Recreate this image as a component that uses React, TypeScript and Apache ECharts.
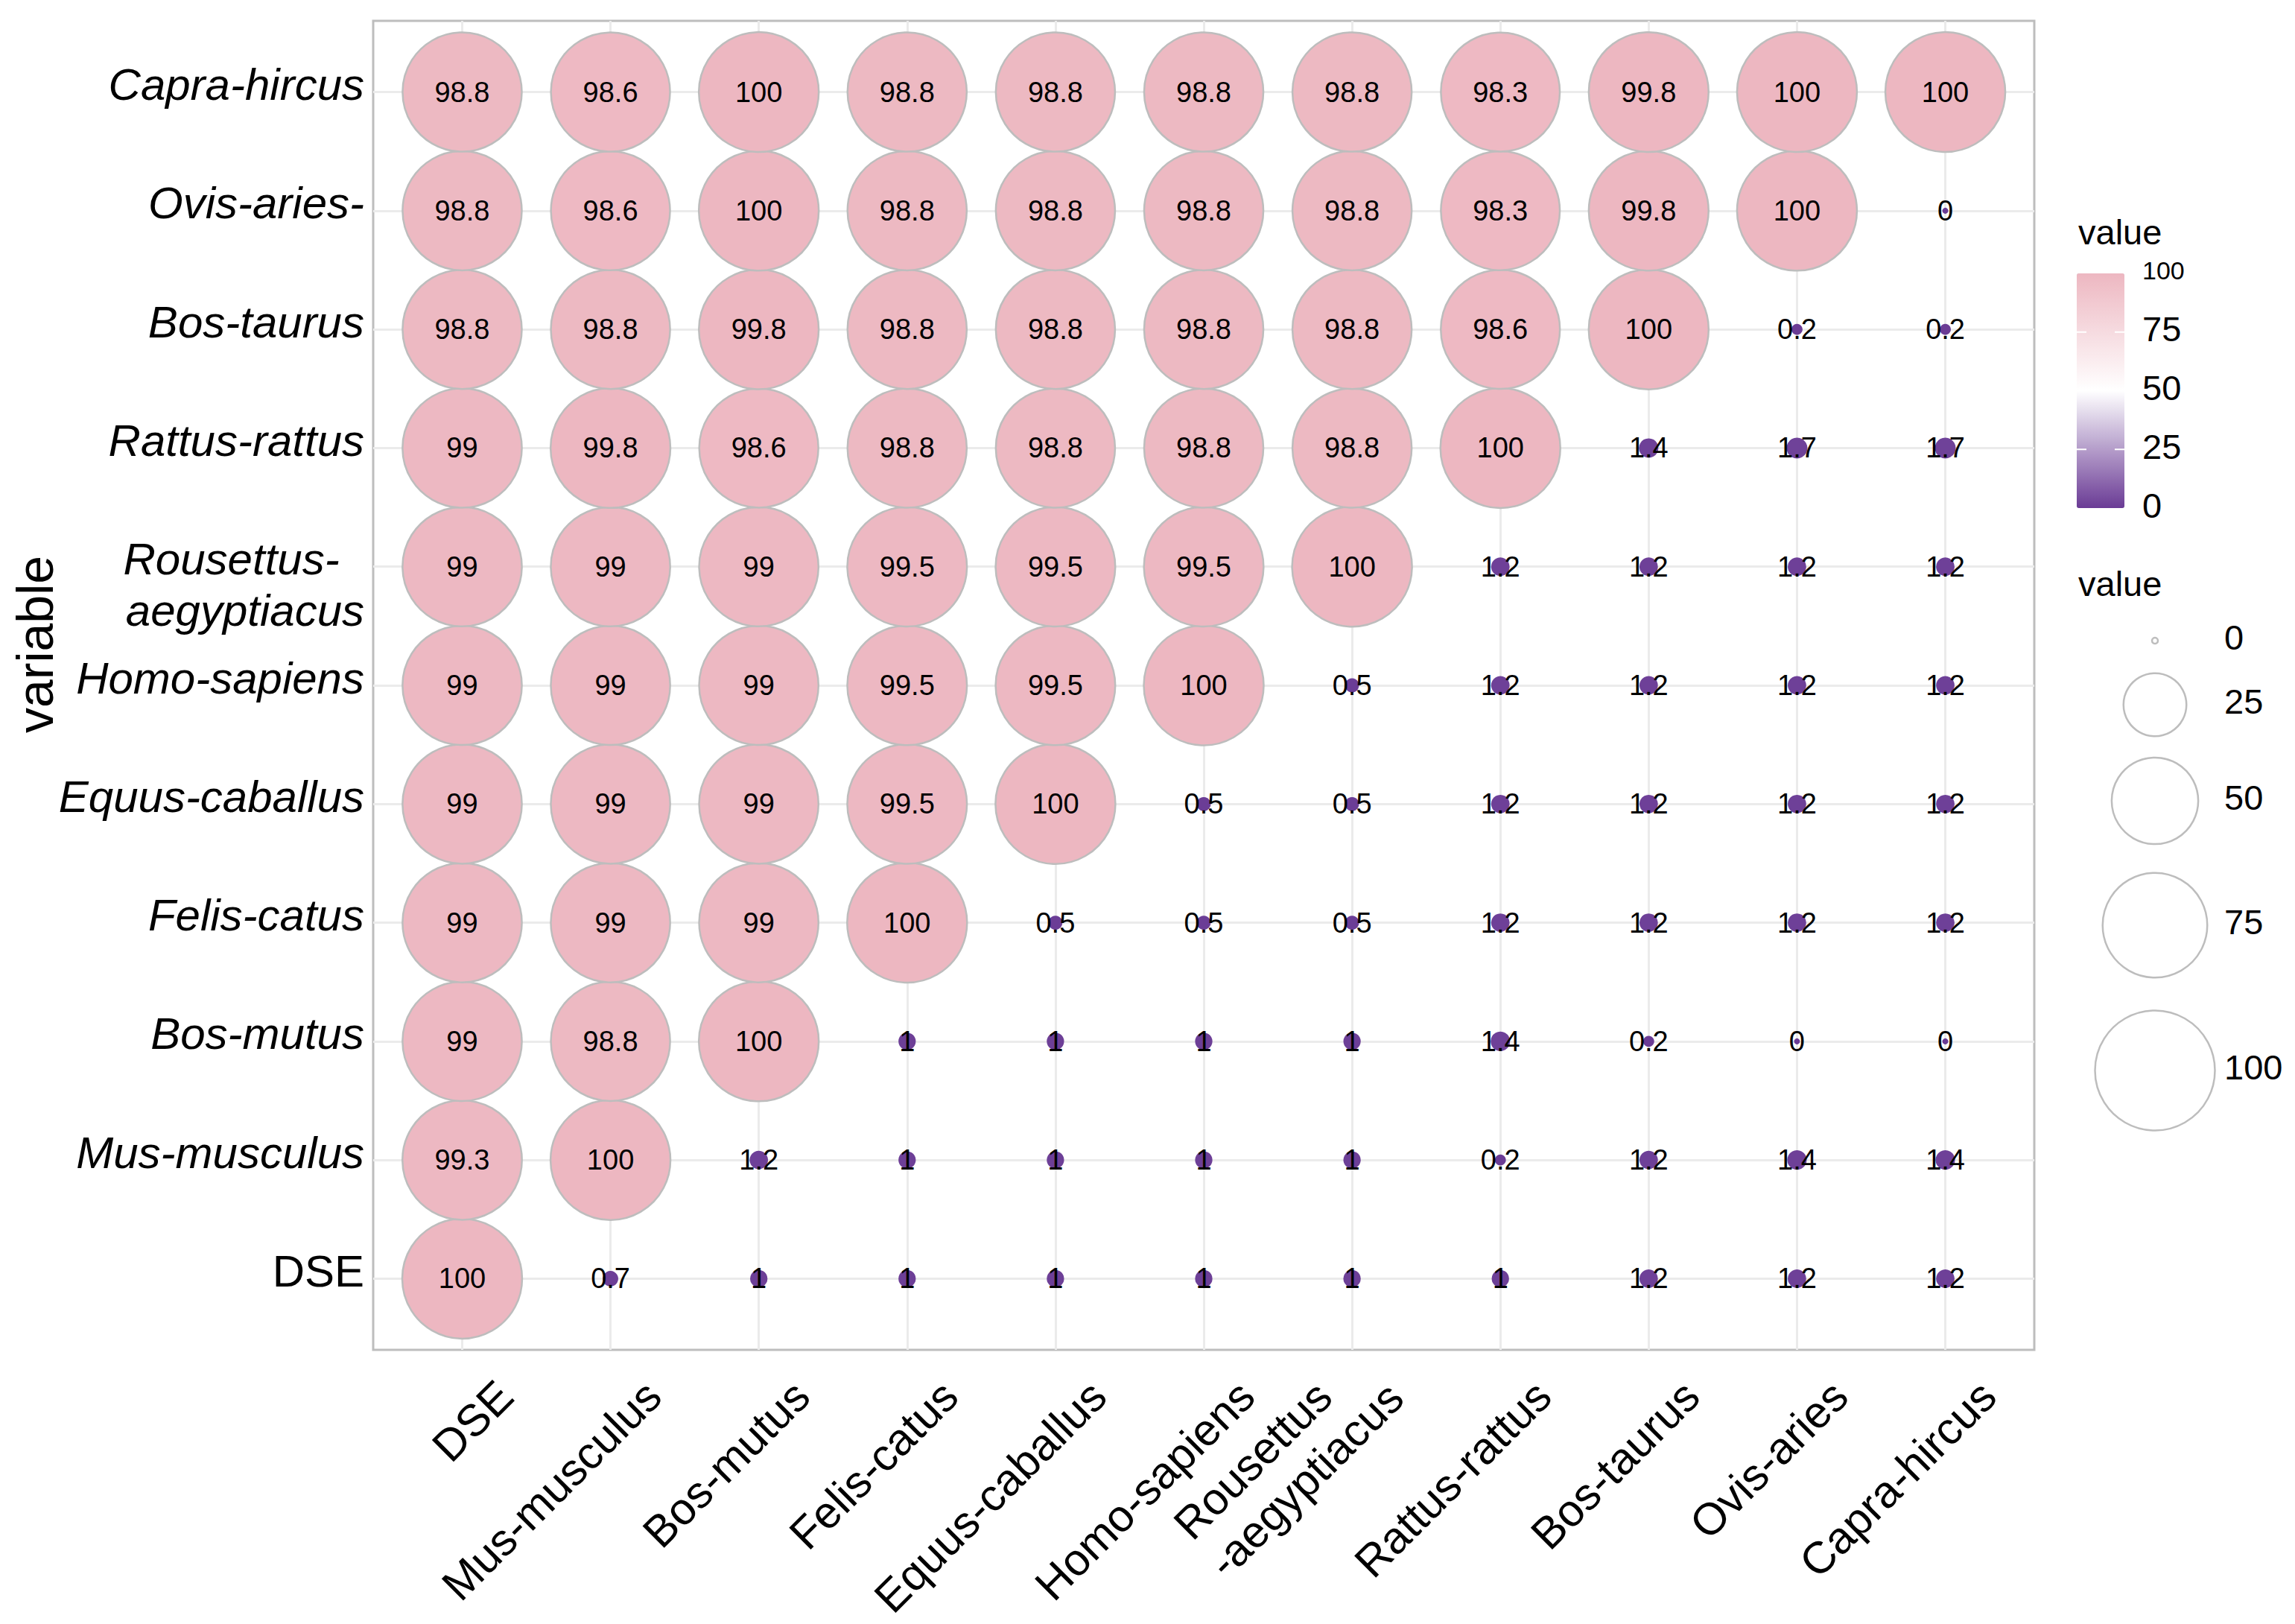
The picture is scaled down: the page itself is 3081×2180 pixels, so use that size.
import React, { useEffect, useRef } from "react";
import * as echarts from "echarts";

// ---------- data ----------
const xNames = [
  "DSE", "Mus-musculus", "Bos-mutus", "Felis-catus", "Equus-caballus", "Homo-sapiens",
  "Rousettus-aegyptiacus", "Rattus-rattus", "Bos-taurus", "Ovis-aries", "Capra-hircus",
];
const yNames = [
  "DSE", "Mus-musculus", "Bos-mutus", "Felis-catus", "Equus-caballus", "Homo-sapiens",
  "Rousettus-aegyptiacus", "Rattus-rattus", "Bos-taurus", "Ovis-aries", "Capra-hircus",
];
// each row: values across x columns (DSE ... Capra-hircus)
const rowDSE = [100, 0.7, 1, 1, 1, 1, 1, 1, 1.2, 1.2, 1.2];
const rowMusMusculus = [99.3, 100, 1.2, 1, 1, 1, 1, 0.2, 1.2, 1.4, 1.4];
const rowBosMutus = [99, 98.8, 100, 1, 1, 1, 1, 1.4, 0.2, 0, 0];
const rowFelisCatus = [99, 99, 99, 100, 0.5, 0.5, 0.5, 1.2, 1.2, 1.2, 1.2];
const rowEquusCaballus = [99, 99, 99, 99.5, 100, 0.5, 0.5, 1.2, 1.2, 1.2, 1.2];
const rowHomoSapiens = [99, 99, 99, 99.5, 99.5, 100, 0.5, 1.2, 1.2, 1.2, 1.2];
const rowRousettus = [99, 99, 99, 99.5, 99.5, 99.5, 100, 1.2, 1.2, 1.2, 1.2];
const rowRattusRattus = [99, 99.8, 98.6, 98.8, 98.8, 98.8, 98.8, 100, 1.4, 1.7, 1.7];
const rowBosTaurus = [98.8, 98.8, 99.8, 98.8, 98.8, 98.8, 98.8, 98.6, 100, 0.2, 0.2];
const rowOvisAries = [98.8, 98.6, 100, 98.8, 98.8, 98.8, 98.8, 98.3, 99.8, 100, 0];
const rowCapraHircus = [98.8, 98.6, 100, 98.8, 98.8, 98.8, 98.8, 98.3, 99.8, 100, 100];

const colorBreaks = [0, 25, 50, 75, 100];
const sizeBreaks = [0, 25, 50, 75, 100];

// ---------- styling ----------
const W = 3081;
const H = 2180;
const FONT = "'Liberation Sans', Arial, Helvetica, sans-serif";
const LOW = "#6A3B95";
const MID = "#FFFFFF";
const HIGH = "#EDB7C1";

const sizeOf = (v: number) => 8 + 153 * Math.sqrt(Math.max(v, 0) / 100);

const rows = [
  rowDSE, rowMusMusculus, rowBosMutus, rowFelisCatus, rowEquusCaballus, rowHomoSapiens,
  rowRousettus, rowRattusRattus, rowBosTaurus, rowOvisAries, rowCapraHircus,
];

const idx = xNames.map((_, i) => i);
const ROUS = xNames.indexOf("Rousettus-aegyptiacus");
const idxSingle = idx.filter((i) => i !== ROUS);

const yLabelText = (v: number) => {
  const n = yNames[Math.round(v)];
  if (n === undefined) return "";
  if (n === "DSE") return "{n|DSE}";
  if (n === "Rousettus-aegyptiacus") return "\nRousettus-  \naegyptiacus";
  if (n === "Ovis-aries") return "Ovis-aries-";
  return n;
};

// axis extents (ggplot-like 0.6 expansion of a discrete scale)
const X_MIN = -0.6, X_MAX = 10.6;
// label-axis shifts (in category units) to place rotated labels like the reference
const LBL_SHIFT = 0.29, LBL_OFFSET = 52;
const ROUS_SHIFT = 0.17, ROUS_OFFSET = 30;

// legend layout
const CB_LEFT = 2788, CB_TOP = 367, CB_W = 64, CB_H = 315;
const SIZE_CX = 2893;
const SIZE_CY = [860, 946, 1075, 1242, 1437];
const LEG_LABEL_X = 2986;

export default function App() {
  const ref = useRef<HTMLDivElement>(null);
  useEffect(() => {
    const el = ref.current!;
    const chart = echarts.init(el, null, { renderer: "svg", width: W, height: H });

    const data: any[] = [];
    rows.forEach((row, r) => {
      row.forEach((v, c) => {
        const item: any = { value: [c, r, v] };
        if (v < 50) item.itemStyle = { borderWidth: 0 };
        data.push(item);
      });
    });

    const graphics: any[] = [];
    graphics.push({
      type: "text", left: 2790, top: 288,
      style: { text: "value", font: `47px ${FONT}`, fill: "#000" },
    });
    colorBreaks.forEach((b) => {
      const y = CB_TOP + CB_H - (b / 100) * CB_H;
      graphics.push({
        type: "text", x: 2876, y: y - 4,
        style: {
          text: String(b), font: `${b === 100 ? 34 : 47}px ${FONT}`, fill: "#000",
          verticalAlign: "middle", align: "left",
        },
        z: 10,
      });
      if (b > 0 && b < 100) {
        graphics.push({ type: "line", shape: { x1: CB_LEFT, y1: y, x2: CB_LEFT + 13, y2: y }, style: { stroke: "#fff", lineWidth: 2 }, z: 10 });
        graphics.push({ type: "line", shape: { x1: CB_LEFT + CB_W - 13, y1: y, x2: CB_LEFT + CB_W, y2: y }, style: { stroke: "#fff", lineWidth: 2 }, z: 10 });
      }
    });
    graphics.push({
      type: "text", left: 2790, top: 760,
      style: { text: "value", font: `47px ${FONT}`, fill: "#000" },
    });
    sizeBreaks.forEach((b, i) => {
      graphics.push({
        type: "circle",
        shape: { cx: SIZE_CX, cy: SIZE_CY[i], r: sizeOf(b) / 2 },
        style: { fill: "none", stroke: "#BDBDBD", lineWidth: 2.5 },
      });
      graphics.push({
        type: "text", x: LEG_LABEL_X, y: SIZE_CY[i] - 5,
        style: { text: String(b), font: `47px ${FONT}`, fill: "#000", verticalAlign: "middle", align: "left" },
      });
    });

    const xLabelBase = {
      rotate: 45, margin: 0, fontSize: 60, color: "#000", fontFamily: FONT,
      align: "right", verticalAlign: "middle", showMinLabel: true, showMaxLabel: true, hideOverlap: false,
    };

    const option: any = {
      animation: false,
      backgroundColor: "#fff",
      textStyle: { fontFamily: FONT },
      grid: {
        left: 501, top: 28, right: W - 2731, bottom: H - 1812,
        show: true, borderColor: "#BDBDBD", borderWidth: 3, backgroundColor: "#fff",
        containLabel: false, outerBoundsMode: "none",
      },
      xAxis: [
        {
          type: "value", min: X_MIN, max: X_MAX, position: "bottom",
          axisLine: { show: false },
          axisTick: { show: true, customValues: idx, length: 10, lineStyle: { color: "#333", width: 2.5 } },
          axisLabel: { show: false },
          splitLine: { show: true, lineStyle: { color: "#EBEBEB", width: 3 } },
        },
        {
          type: "value", min: X_MIN - LBL_SHIFT, max: X_MAX - LBL_SHIFT, position: "bottom", offset: LBL_OFFSET,
          axisLine: { show: false }, axisTick: { show: false }, splitLine: { show: false },
          axisLabel: {
            ...xLabelBase, lineHeight: 60, customValues: idxSingle,
            formatter: (v: number) => xNames[Math.round(v)] ?? "",
          },
        },
        {
          type: "value", min: X_MIN - ROUS_SHIFT, max: X_MAX - ROUS_SHIFT, position: "bottom", offset: ROUS_OFFSET,
          axisLine: { show: false }, axisTick: { show: false }, splitLine: { show: false },
          axisLabel: {
            ...xLabelBase, lineHeight: 69, customValues: [ROUS],
            formatter: () => "Rousettus    \n-aegyptiacus",
          },
        },
      ],
      yAxis: {
        type: "value", min: X_MIN, max: X_MAX,
        name: "variable", nameLocation: "middle", nameGap: 420, nameRotate: 90, nameMoveOverlap: false,
        nameTextStyle: { fontSize: 68, color: "#000", fontFamily: FONT, padding: [0, 0, 0, 110] },
        axisLine: { show: false },
        axisTick: { show: true, customValues: idx, length: 10, lineStyle: { color: "#333", width: 2.5 } },
        axisLabel: {
          customValues: idx, margin: 12, fontSize: 60, lineHeight: 69, fontStyle: "italic",
          color: "#000", fontFamily: FONT, align: "right", verticalAlign: "middle",
          showMinLabel: true, showMaxLabel: true, hideOverlap: false,
          padding: [0, 0, 20, 0], formatter: (v: number) => yLabelText(v),
          rich: { n: { fontStyle: "normal", fontSize: 60, lineHeight: 69, color: "#000", fontFamily: FONT } },
        },
        splitLine: { show: true, lineStyle: { color: "#EBEBEB", width: 3 } },
      },
      visualMap: {
        type: "continuous", min: 0, max: 100, seriesIndex: 0, dimension: 2,
        inRange: { color: [LOW, MID, HIGH] },
        orient: "vertical", left: CB_LEFT, top: CB_TOP, itemWidth: CB_W, itemHeight: CB_H,
        calculable: false, hoverLink: false, padding: 0, text: null, showLabel: false,
      },
      series: [
        {
          type: "scatter", symbol: "circle", data, xAxisIndex: 0, yAxisIndex: 0,
          symbolSize: (val: number[]) => sizeOf(val[2]),
          itemStyle: { borderColor: "#BDBDBD", borderWidth: 2.5, opacity: 1 },
          label: {
            show: true, position: "inside", color: "#000", fontSize: 38, fontFamily: FONT,
            textBorderWidth: 0, formatter: (p: any) => String(p.value[2]),
          },
          emphasis: { disabled: true },
          z: 3,
        },
      ],
      graphic: graphics,
    };
    chart.setOption(option);
    return () => chart.dispose();
  }, []);
  return (
    <div
      ref={ref}
      style={{ position: "fixed", left: 0, top: 0, width: W, height: H, background: "#fff" }}
    />
  );
}
